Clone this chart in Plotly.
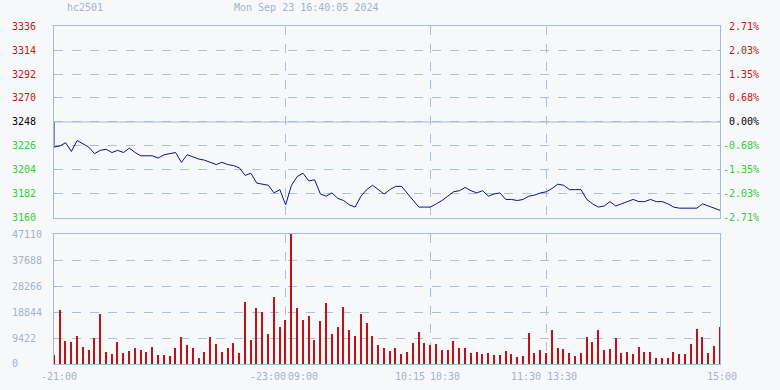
import plotly.graph_objects as go

# ---------------- data ----------------
symbol = "hc2501"
timestamp = "Mon Sep 23 16:40:05 2024"
prev_close = 3248

prices = [
    3225, 3226, 3229, 3221, 3231, 3228, 3225, 3219, 3222, 3223,
    3220, 3222, 3220, 3224, 3220, 3217, 3217, 3217, 3215, 3218,
    3219, 3220, 3211, 3218, 3216, 3214, 3213, 3211, 3209, 3211,
    3209, 3208, 3206, 3199, 3201, 3192, 3191, 3190, 3183, 3186,
    3172, 3190, 3198, 3201, 3194, 3195, 3182, 3180, 3183, 3178,
    3176, 3172, 3170, 3180, 3186, 3190, 3186, 3182, 3186, 3189,
    3189, 3183, 3177, 3170, 3170, 3170, 3173, 3176, 3180, 3184,
    3185, 3188, 3185, 3183, 3185, 3180, 3182, 3183, 3177, 3177,
    3176, 3177, 3180, 3181, 3183, 3184, 3187, 3191, 3190, 3186,
    3186, 3186, 3177, 3173, 3170, 3171, 3175, 3171, 3173, 3175,
    3177, 3175, 3175, 3177, 3175, 3175, 3173, 3170, 3169, 3169,
    3169, 3169, 3173, 3171, 3169, 3167,
]

volumes = [
    3380, 19690, 8460, 8090, 10270, 6280, 5190, 9300, 18240, 4470,
    3740, 8090, 4110, 4830, 5920, 5190, 4470, 6280, 3380, 3380,
    3020, 5920, 9910, 7010, 5920, 2300, 4470, 9910, 7370, 4470,
    5920, 7730, 4110, 22590, 8820, 20420, 18970, 10990, 24400, 13530,
    16070, 47110, 20420, 16070, 17520, 8820, 15700, 22230, 10990, 13530,
    20780, 12440, 10270, 18240, 14980, 10270, 7010, 5920, 4830, 5920,
    3740, 4470, 7730, 11720, 7730, 7010, 7370, 5190, 5190, 8460,
    5920, 5920, 4110, 4470, 3740, 4110, 3380, 3380, 4830, 3740,
    2660, 3020, 11360, 4110, 5190, 3900, 12440, 5920, 5560, 4110,
    3020, 4110, 9910, 8090, 12440, 5190, 5560, 9540, 4110, 4470,
    3740, 6280, 4470, 4470, 2300, 2300, 2300, 4470, 3740, 3740,
    7370, 12800, 9910, 4110, 6640, 13530,
]

price_ticks = [3336, 3314, 3292, 3270, 3248, 3226, 3204, 3182, 3160]
volume_max = 47110
volume_ticks = [volume_max * k / 5 for k in range(6)]

session_breaks = [40, 65, 85]          # index of 23:00/09:00, 10:15/10:30, 11:30/13:30
x_labels = ["-21:00", "-23:00", "09:00", "10:15", "10:30", "11:30", "13:30", "15:00"]
x_label_idx = [0, 40, 40, 65, 65, 85, 85, 115]

# ---------------- styling ----------------
BG = "#f7f8fa"
AXIS = "#a3bbd8"
GRID = "#adc0d8"
LABEL = "#a3b4ca"
UP = "#cc1111"
DOWN = "#33cc33"
FONT = "DejaVu Sans Mono"
NB = "\u00a0"

idx = list(range(len(prices)))
n_last = len(prices) - 1


def price_color(v):
    if v > prev_close:
        return UP
    if v < prev_close:
        return DOWN
    return "#000000"


left_text = [f'<span style="color:{price_color(v)}">{v}{NB}</span>' for v in price_ticks]
right_text = []
for v in price_ticks:
    s = f"{(v / prev_close - 1) * 100:.2f}%"
    s = NB * (6 - len(s)) + s
    right_text.append(f'<span style="color:{price_color(v)}">{s}</span>')
vol_text = [str(int(round(v))) + NB * (5 - len(str(int(round(v))))) for v in volume_ticks]

fig = go.Figure()

fig.add_trace(go.Scatter(
    x=[0] + idx, y=[prev_close] + prices, mode="lines",
    line=dict(color="#10108a", width=1), xaxis="x", yaxis="y",
    hoverinfo="skip", showlegend=False,
))
fig.add_trace(go.Scatter(
    x=idx, y=prices, mode="lines", line=dict(width=0), opacity=0,
    xaxis="x", yaxis="y3", hoverinfo="skip", showlegend=False,
))
fig.add_trace(go.Bar(
    x=idx, y=volumes, width=0.25, marker=dict(color="#c40f14", line=dict(width=0)),
    xaxis="x2", yaxis="y2", hoverinfo="skip", showlegend=False,
))

common_x = dict(
    range=[0, n_last], tickvals=session_breaks, showticklabels=False,
    showgrid=True, gridcolor=GRID, griddash="dash", gridwidth=1,
    showline=True, mirror=True, linecolor=AXIS, linewidth=1,
    ticks="", zeroline=False, fixedrange=True,
)

fig.update_layout(
    width=780, height=390,
    margin=dict(l=54, r=60, t=26, b=26),
    paper_bgcolor=BG, plot_bgcolor=BG,
    font=dict(family=FONT, size=10, color=LABEL),
    bargap=0,
    xaxis=dict(domain=[0, 1], anchor="y", **common_x),
    xaxis2=dict(domain=[0, 1], anchor="y2", matches="x", **common_x),
    yaxis=dict(
        domain=[0.432, 1], range=[price_ticks[-1], price_ticks[0]],
        tickvals=price_ticks, ticktext=left_text,
        ticks="inside", ticklen=3, tickcolor=AXIS, ticklabelstandoff=9,
        showgrid=True, gridcolor=GRID, griddash="dash",
        showline=True, mirror=True, linecolor=AXIS, zeroline=False,
        tickfont=dict(family=FONT, size=10),
    ),
    yaxis3=dict(
        overlaying="y", side="right", anchor="x",
        range=[price_ticks[-1], price_ticks[0]],
        tickvals=price_ticks, ticktext=right_text,
        ticks="inside", ticklen=3, tickcolor=AXIS, ticklabelstandoff=2,
        showgrid=False, showline=False, zeroline=False,
        tickfont=dict(family=FONT, size=10),
    ),
    yaxis2=dict(
        domain=[0, 0.3846], range=[0, volume_max],
        tickvals=volume_ticks, ticktext=vol_text,
        ticks="inside", ticklen=3, tickcolor=AXIS, ticklabelstandoff=9,
        showgrid=True, gridcolor=GRID, griddash="dash",
        showline=True, mirror=True, linecolor=AXIS, zeroline=False,
        tickfont=dict(family=FONT, size=10, color=LABEL),
    ),
)

# solid reference line at previous close
fig.add_shape(type="line", xref="x domain", yref="y", x0=0, x1=1,
              y0=prev_close, y1=prev_close, line=dict(color=AXIS, width=1))

# header texts
fig.add_annotation(text=symbol, xref="paper", yref="paper", x=0, y=1,
                   xanchor="left", yanchor="middle", xshift=11, yshift=19,
                   showarrow=False, font=dict(family=FONT, size=10, color=LABEL))
fig.add_annotation(text=timestamp, xref="paper", yref="paper", x=0, y=1,
                   xanchor="left", yanchor="middle", xshift=178, yshift=19,
                   showarrow=False, font=dict(family=FONT, size=10, color=LABEL))

# time axis labels
anchors = ["center", "right", "left", "right", "left", "right", "left", "center"]
shifts = [5, 1, 1, -4, -1, -4, 0, 2]
for lab, xi, anc, sh in zip(x_labels, x_label_idx, anchors, shifts):
    fig.add_annotation(text=lab, xref="x2", yref="paper", x=xi, y=0,
                       xanchor=anc, yanchor="middle", xshift=sh, yshift=-12,
                       showarrow=False, borderpad=0,
                       font=dict(family=FONT, size=10, color=LABEL))

fig.write_html("out.html")
